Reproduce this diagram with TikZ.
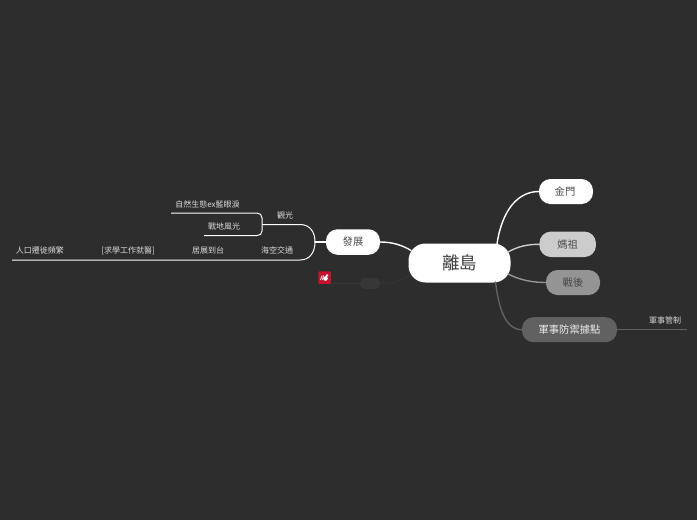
\documentclass[tikz,border=0pt]{standalone}
\usepackage{fontspec}
\setmainfont{Noto Sans CJK TC}
\definecolor{bg}{HTML}{2D2D2D}
\definecolor{iconred}{HTML}{C4122F}
\tikzset{
  topic/.style={rounded corners=#1,inner sep=0pt,draw=none,align=center},
  topictext/.style={font=\fontsize{10.3}{11}\selectfont},
  leaf/.style={font=\fontsize{8}{9}\selectfont,text=white!85!black,inner sep=0pt},
  conn/.style={line width=1.4pt,line cap=round},
}
\begin{document}
\begin{tikzpicture}[x=1pt,y=-1pt]
\useasboundingbox (0,0) rectangle (697,520);
\fill[bg] (0,0) rectangle (697,520);
% hidden branch
\node[topic=5pt,fill=white!5!bg,minimum width=20pt,minimum height=11pt] (hid) at (370,283.5) {};
\coordinate (hidend) at (330,283.5);
\coordinate (rootb) at (412,274);
\draw[line width=.8pt,color=white!4!bg] (rootb) .. controls (400,282) and (392,283.5) .. (hid.east);
\draw[line width=.8pt,color=white!4!bg] (hid.west) -- (hidend);
% connector ends on the root
\coordinate (ra) at (497,244);
\coordinate (rb) at (508,252);
\coordinate (rc) at (508,274);
\coordinate (rd) at (495.5,282);
\coordinate (re) at (411,250.5);
% nodes
\node[topic=17pt,fill=white,minimum width=102pt,minimum height=39pt,text=black!75,font=\fontsize{17.5}{19}\selectfont] (root) at (459.5,263) {離島};
\node[topic=11.5pt,fill=white,minimum width=54pt,minimum height=25pt,text=black!70,topictext] (jm) at (566,191.5) {\hspace{-2pt}金門};
\node[topic=11.5pt,fill=white!80!black,minimum width=56.5pt,minimum height=25.5pt,text=black!70,topictext] (mz) at (567.7,244.3) {媽祖};
\node[topic=11.5pt,fill=white!58!black,minimum width=54pt,minimum height=25pt,text=black!72,topictext] (zh) at (573,282.5) {戰後};
\node[topic=11.5pt,fill=white!38!black,minimum width=95pt,minimum height=25pt,text=white!92!black,topictext] (js) at (569.5,329.7) {軍事防禦據點};
\node[topic=11.5pt,fill=white,minimum width=54pt,minimum height=25.5pt,text=black!70,topictext] (fz) at (353,242) {發展};
% root connectors
\draw[conn,white] (ra) .. controls (502,210) and (518,191.5) .. (jm.west);
\draw[conn,white!80!black] (rb) .. controls (517,247) and (526,244.3) .. (mz.west);
\draw[conn,white!58!black] (rc) .. controls (520,280) and (532,282.5) .. (zh.west);
\draw[conn,white!38!black] (rd) .. controls (499,310) and (506,329.7) .. (js.west);
\draw[conn,white] (re) .. controls (402,245) and (392,242) .. (fz.east);
% 發展 branches
\coordinate (hub) at (315,242);
\coordinate (bkr) at (262,224.5);
\coordinate (b1) at (171,213);
\coordinate (b2) at (204,235.5);
\coordinate (far) at (12,260);
\draw[conn,white] (fz.west) -- (hub);
\draw[line width=1pt,white] (bkr) -- (300,224.5) .. controls (310,224.5) and (315,232) .. (hub) .. controls (315,252) and (310,260) .. (300,260) -- (far);
\draw[line width=1pt,white] (b1) -- (257,213) .. controls (260,213) and (262,215) .. (262,218) -- (bkr) -- (262,231) .. controls (262,234) and (260,235.5) .. (257,235.5) -- (b2);
% js leaf
\coordinate (jsend) at (687,329.7);
\draw[line width=.8pt,white!38!black] (js.east) -- (jsend);
% leaves
\node[leaf] (l1) at (207.5,204.5) {自然生態ex藍眼淚};
\node[leaf] (l2) at (224,226.5) {戰地風光};
\node[leaf] (l3) at (285,215.5) {觀光};
\node[leaf] (l4) at (40,250.5) {人口遷徙頻繁};
\node[leaf] (l5) at (128,250.5) {[求學工作就醫]};
\node[leaf] (l6) at (208,250.5) {居展到台};
\node[leaf] (l7) at (277,250.5) {海空交通};
\node[leaf] (l8) at (665,320.5) {軍事管制};
% red icon
\node[topic=1pt,fill=iconred,minimum width=12.5pt,minimum height=12.5pt] (icon) at (324.5,277.5) {};
\fill[white] (325.5,278.5) circle (2.3) (327,275.5) circle (1.3);
\draw[white,line width=.7pt] (320.5,280) -- (322,275.5) (322.5,280) -- (323.5,275.5);
\end{tikzpicture}
\end{document}
